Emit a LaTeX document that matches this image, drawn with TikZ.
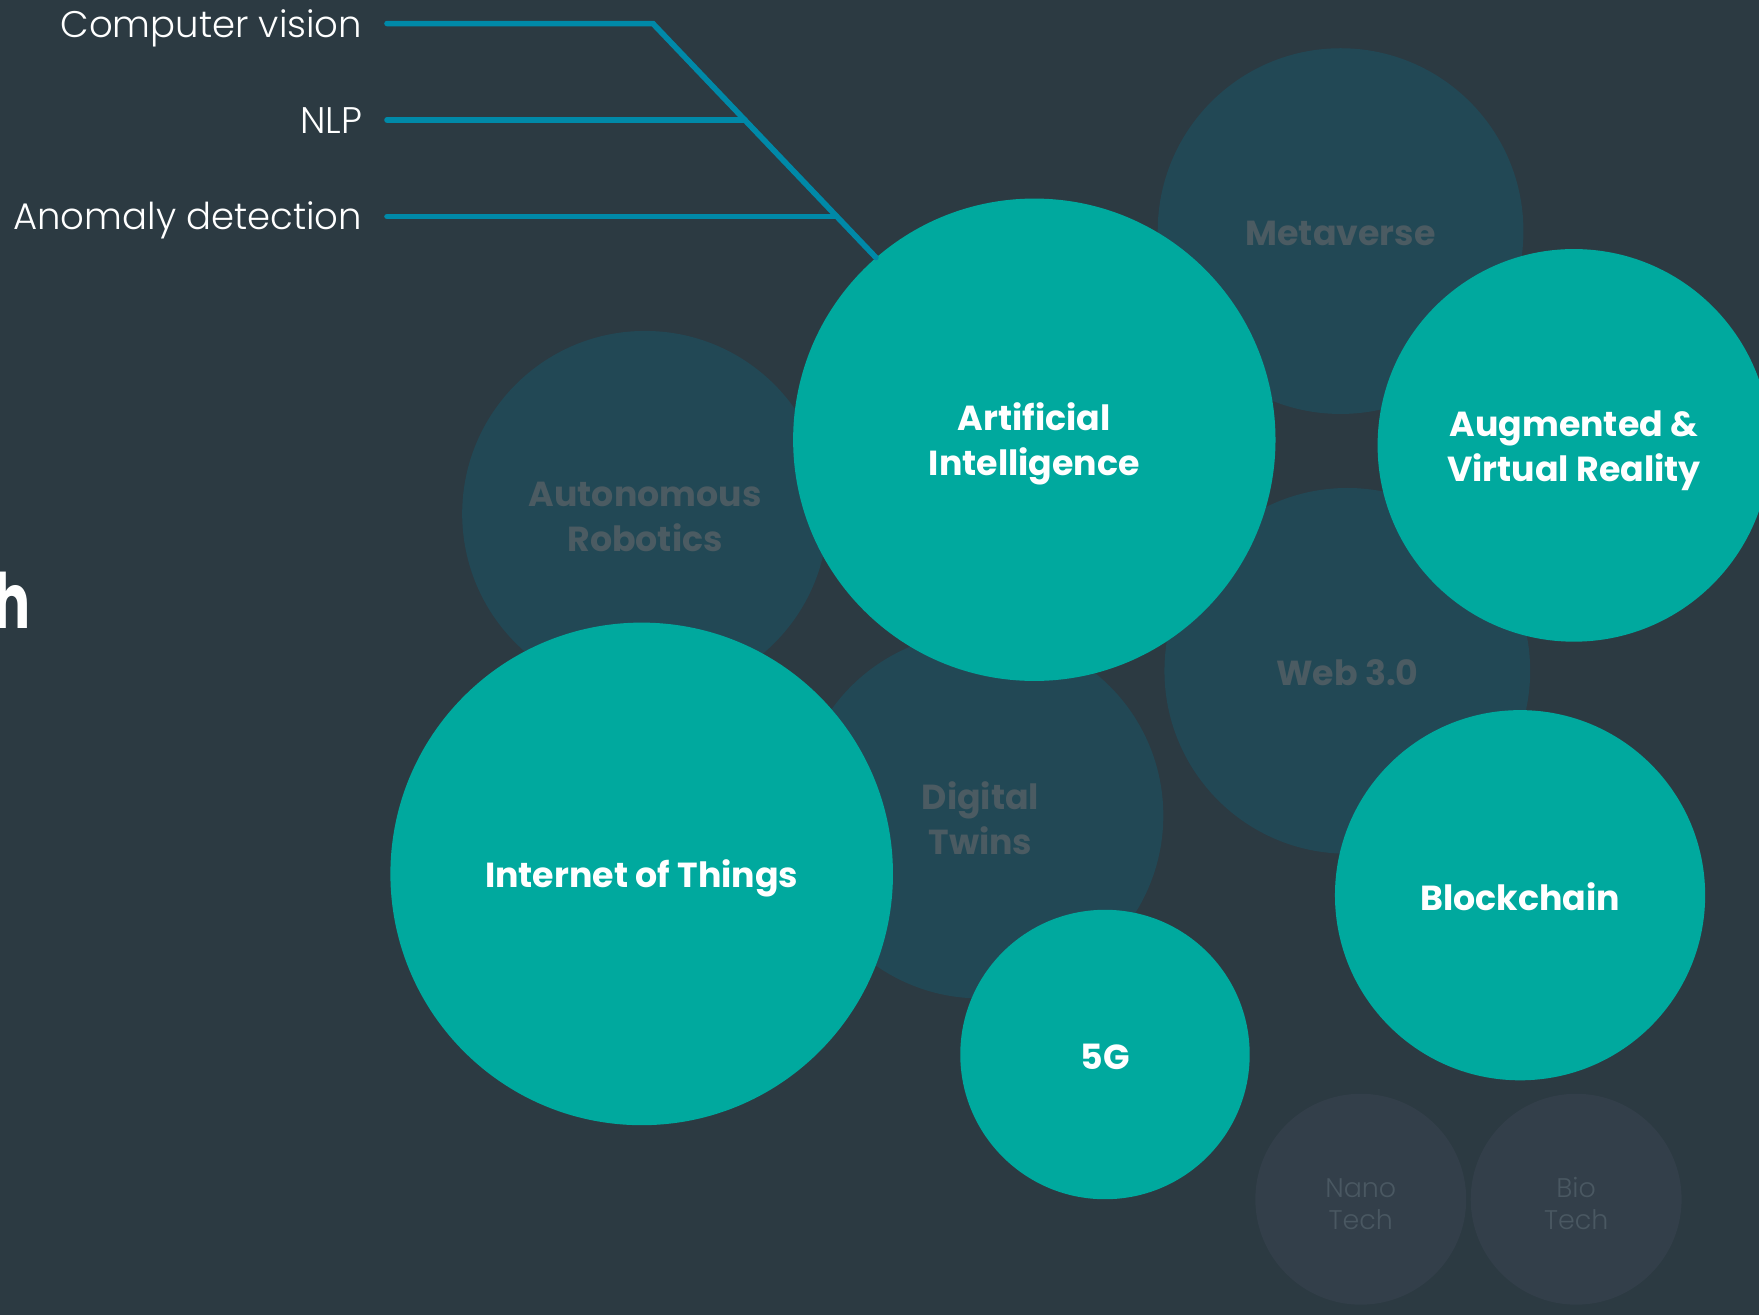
\documentclass[tikz,border=0pt]{standalone}
\usepackage{fontspec}
\setmainfont{Poppins}
\newfontfamily\lightfont{Poppins Light}
\definecolor{bgc}{HTML}{2C3A42}
\definecolor{tealc}{HTML}{00A99E}
\definecolor{darkc}{HTML}{224855}
\definecolor{darktxt}{HTML}{4B5B62}
\definecolor{smallc}{HTML}{333F4A}
\definecolor{smalltxt}{HTML}{4A5862}
\definecolor{linec}{HTML}{0089A8}
\tikzset{
  disc/.style={circle, inner sep=0pt},
  bigtxt/.style={inner sep=0pt, align=center, font=\bfseries\fontsize{31}{40}\selectfont},
  tealtxt/.style={bigtxt, text=white},
  darktxtstyle/.style={bigtxt, text=darktxt},
  tinytxt/.style={inner sep=0pt, align=center, text=smalltxt,
    font=\lightfont\fontsize{24}{28.5}\selectfont},
  leftlabel/.style={anchor=base east, text=white, inner sep=0pt,
    font=\lightfont\fontsize{33}{36}\selectfont},
  conn/.style={draw=linec, line width=5pt, line cap=round, line join=miter}
}
\begin{document}
\begin{tikzpicture}[x=1pt,y=-1pt]
\fill[bgc] (0,0) rectangle (1568,1172);
\useasboundingbox (0,0) rectangle (1568,1172);

% background (dark) circles
\node[disc, fill=darkc, minimum size=326pt] (meta) at (1195,206) {};
\node[disc, fill=darkc, minimum size=326pt] (robo) at (575,458) {};
\node[disc, fill=darkc, minimum size=326pt] (web) at (1201,598) {};
\node[disc, fill=darkc, minimum size=326pt] (twin) at (874,727) {};
\node[disc, fill=smallc, minimum size=188pt] (nano) at (1213,1069) {};
\node[disc, fill=smallc, minimum size=188pt] (bio) at (1405,1069) {};
\node[darktxtstyle] (meta-t) at ([yshift=-2pt]meta.center) {Metaverse};
\node[darktxtstyle] (robo-t) at ([yshift=-3pt]robo.center) {Autonomous\\Robotics};
\node[darktxtstyle] (web-t) at ([yshift=-2pt]web.center) {Web 3.0};
\node[darktxtstyle] (twin-t) at ([yshift=-2pt]twin.center) {Digital\\Twins};
\node[tinytxt] (nano-t) at ([yshift=-4pt]nano.center) {Nano\\Tech};
\node[tinytxt] (bio-t) at ([yshift=-4pt]bio.center) {Bio\\Tech};

% foreground (teal) circles
\node[disc, fill=tealc, minimum size=430pt] (ai) at (922,392) {};
\node[disc, fill=tealc, minimum size=350pt] (arvr) at (1403,397) {};
\node[disc, fill=tealc, minimum size=448pt] (iot) at (572,779) {};
\node[disc, fill=tealc, minimum size=258pt] (fiveg) at (985,940) {};
\node[disc, fill=tealc, minimum size=330pt] (chain) at (1355,798) {};
\node[tealtxt] (ai-t) at ([yshift=-4pt]ai.center) {Artificial\\Intelligence};
\node[tealtxt] (arvr-t) at ([yshift=-5pt]arvr.center) {Augmented \&\\Virtual Reality};
\node[tealtxt] (iot-t) at ([yshift=-4pt]iot.center) {Internet of Things};
\node[tealtxt] (fiveg-t) at ([yshift=-2pt]fiveg.center) {5G};
\node[tealtxt] (chain-t) at ([yshift=-1pt]chain.center) {Blockchain};

% labels
\node[leftlabel] (cv) at (323,33) {Computer vision};
\node[leftlabel] (nlp) at (323,119) {NLP};
\node[leftlabel] (anom) at (323,205) {Anomaly detection};
\node[anchor=base east, text=white, inner sep=0pt, xscale=0.72, transform shape,
  font=\bfseries\fontsize{68}{68}\selectfont] (title) at (27,560) {h};

% connectors
\coordinate (cvL) at (345,21);
\coordinate (nlpL) at (345,107);
\coordinate (anL) at (345,193);
\coordinate (j1) at (582,21);
\coordinate (j2) at (664,107);
\coordinate (j3) at (746,193);
\draw[conn] (cvL) -- (j1) -- (ai.131);
\draw[conn] (nlpL) -- (j2);
\draw[conn] (anL) -- (j3);
\end{tikzpicture}
\end{document}
